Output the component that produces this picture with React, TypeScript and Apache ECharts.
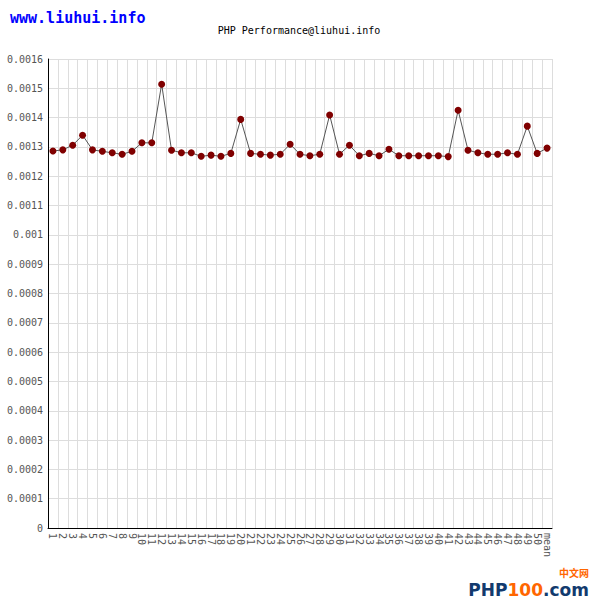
import React, { useEffect, useRef } from "react";
import * as echarts from "echarts";

const categories: string[] = [
  "1","2","3","4","5","6","7","8","9","10",
  "11","12","13","14","15","16","17","18","19","20",
  "21","22","23","24","25","26","27","28","29","30",
  "31","32","33","34","35","36","37","38","39","40",
  "41","42","43","44","45","46","47","48","49","50","mean",
];

const timings: number[] = [
  0.001286, 0.00129, 0.001306, 0.00134, 0.00129, 0.001285, 0.00128, 0.001275, 0.001285, 0.001314,
  0.001314, 0.001514, 0.001289, 0.00128, 0.00128, 0.001268, 0.001272, 0.001268, 0.001278, 0.001394,
  0.001278, 0.001275, 0.001272, 0.001275, 0.001309, 0.001275, 0.00127, 0.001275, 0.001409, 0.001275,
  0.001306, 0.00127, 0.001278, 0.00127, 0.001292, 0.00127, 0.00127, 0.00127, 0.00127, 0.00127,
  0.001267, 0.001425, 0.001289, 0.00128, 0.001275, 0.001275, 0.00128, 0.001275, 0.001371, 0.001278,
  0.001296,
];

const yMin = 0;
const yMax = 0.0016;
const yStep = 0.0001;

const mono = "'DejaVu Sans Mono', monospace";
const logoFont = "bold 17px 'DejaVu Sans', sans-serif";

function txt(text: string, x: number, y: number, fill: string, font: string, align: string) {
  return {
    type: "text",
    x,
    y,
    style: { text, fill, font, textAlign: align, textVerticalAlign: "middle" },
  };
}

export default function App() {
  const ref = useRef<HTMLDivElement>(null);
  useEffect(() => {
    if (!ref.current) return;
    const chart = echarts.init(ref.current, undefined, { renderer: "svg" });
    chart.setOption({
      animation: false,
      backgroundColor: "#ffffff",
      graphic: [
        txt("www.liuhui.info", 10, 18, "#0000ff", `bold 15px ${mono}`, "left"),
        txt("PHP Performance@liuhui.info", 299, 30, "#000000", `10px ${mono}`, "center"),
        txt("中文网", 589, 572.5, "#ff6600", "bold 10px 'Noto Sans CJK SC', sans-serif", "right"),
        txt(".com", 589, 590, "#123a6e", logoFont, "right"),
        txt("100", 543, 590, "#ff6600", logoFont, "right"),
        txt("PHP", 507.5, 590, "#123a6e", logoFont, "right"),
      ],
      grid: { left: 48, right: 48, top: 59, bottom: 72, containLabel: false },
      xAxis: {
        type: "category",
        data: categories,
        boundaryGap: true,
        axisLine: { lineStyle: { color: "#000000", width: 1 } },
        axisTick: { show: false },
        axisLabel: {
          interval: 0,
          rotate: -90,
          margin: 5,
          color: "#555555",
          fontFamily: mono,
          fontSize: 10,
        },
        splitLine: { show: true, interval: 0, lineStyle: { color: "#dddddd", width: 1 } },
      },
      yAxis: {
        type: "value",
        min: yMin,
        max: yMax,
        interval: yStep,
        axisLine: { show: true, lineStyle: { color: "#000000", width: 1 } },
        axisTick: { show: false },
        axisLabel: {
          margin: 5,
          color: "#555555",
          fontFamily: mono,
          fontSize: 10,
          formatter: (v: number) => String(parseFloat(v.toFixed(4))),
        },
        splitLine: { show: true, lineStyle: { color: "#dddddd", width: 1 } },
      },
      series: [
        {
          type: "line",
          data: timings,
          symbol: "circle",
          symbolSize: 7,
          itemStyle: { color: "#800000" },
          lineStyle: { color: "#555555", width: 1 },
        },
      ],
    });
    return () => chart.dispose();
  }, []);
  return (
    <div
      ref={ref}
      style={{ position: "absolute", left: 0, top: 0, width: 600, height: 600 }}
    />
  );
}
